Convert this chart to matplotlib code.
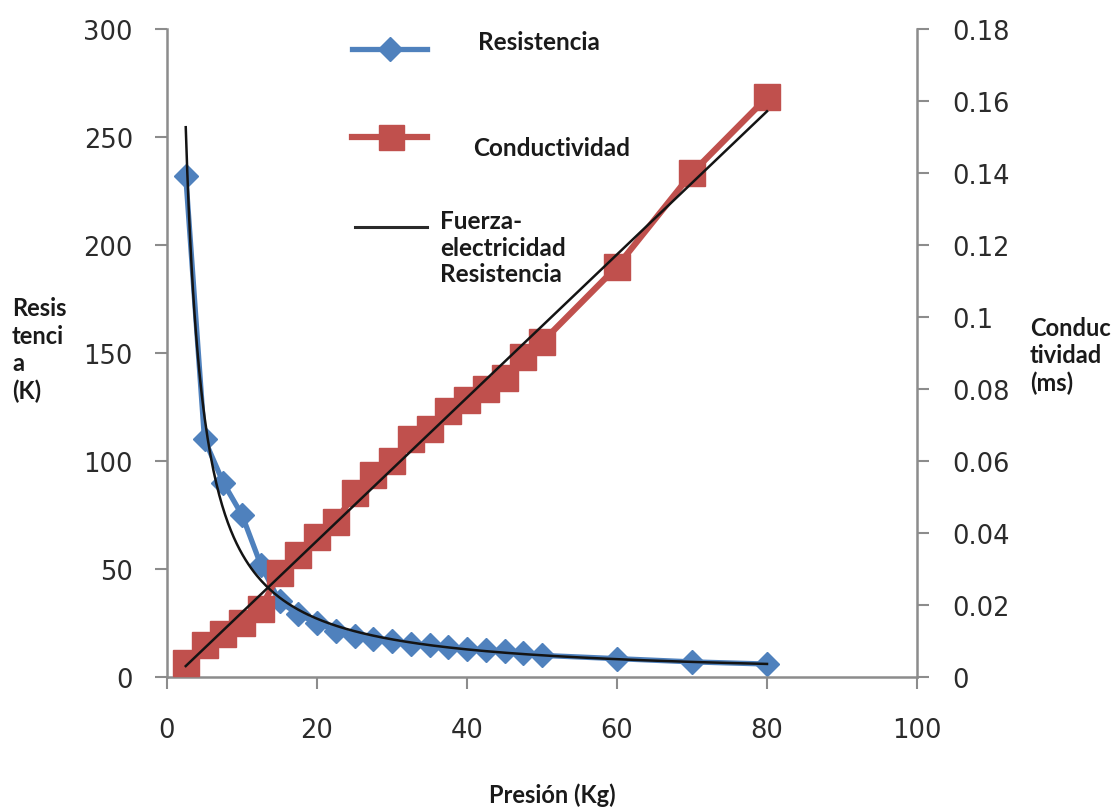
import numpy as np
import matplotlib
matplotlib.use("Agg")
import matplotlib.pyplot as plt
from matplotlib.lines import Line2D

plt.rcParams["font.family"] = ["DejaVu Sans"]

# ---- data ----
presion = [2.5, 5, 7.5, 10, 12.5, 15, 17.5, 20, 22.5, 25, 27.5, 30, 32.5,
           35, 37.5, 40, 42.5, 45, 47.5, 50, 60, 70, 80]
resistencia = [232, 110, 90, 75, 52, 35, 29, 25, 21.5, 19, 17.5, 16.5, 15.5,
               14.8, 14, 13, 12.5, 12, 11, 10, 8.5, 7, 6]
conductividad = [0.004, 0.009, 0.012, 0.015, 0.019, 0.029, 0.034, 0.039, 0.043,
                 0.051, 0.056, 0.060, 0.066, 0.069, 0.074, 0.077, 0.080, 0.083,
                 0.089, 0.093, 0.114, 0.140, 0.161]
x_ticks = [0, 20, 40, 60, 80, 100]
y1_ticks = [0, 50, 100, 150, 200, 250, 300]
y2_ticks = [0, 0.02, 0.04, 0.06, 0.08, 0.1, 0.12, 0.14, 0.16, 0.18]
y2_labels = ["0", "0.02", "0.04", "0.06", "0.08", "0.1", "0.12", "0.14", "0.16", "0.18"]

BLUE = "#4F81BD"
RED = "#C0504D"
AXC = "#8C8C8C"
TXT = "#2b2b2b"
BOLD = ["Lato", "DejaVu Sans"]

W, H = 1118, 812
fig = plt.figure(figsize=(W / 100, H / 100), dpi=100)
fig.patch.set_facecolor("white")

L, R_, B, T = 167, 917, 678, 30
ax = fig.add_axes([L / W, 1 - B / H, (R_ - L) / W, (B - T) / H])
ax2 = ax.twinx()

x = np.array(presion, float)
r = np.array(resistencia, float)
c = np.array(conductividad, float)

# trend lines (power fit for resistance, linear fit for conductivity)
b, lna = np.polyfit(np.log(x), np.log(r), 1)
xs = np.linspace(x.min(), x.max(), 400)
r_fit = np.exp(lna) * xs ** b
m, q = np.polyfit(x, c, 1)
c_fit = m * xs + q

ax.plot(x, r, color=BLUE, lw=3.8, marker="D", ms=12.5, mec=BLUE, mfc=BLUE,
        solid_joinstyle="round", zorder=2)
ax2.plot(x, c, color=RED, lw=4.5, marker="s", ms=18.5, mec=RED, mfc=RED,
         solid_joinstyle="miter", zorder=2)
ax2.plot(xs, r_fit, color="#141414", lw=1.8, transform=ax.transData, zorder=4)
ax2.plot(xs, c_fit, color="#141414", lw=1.8, zorder=4)

ax.set_xlim(0, 100)
ax.set_ylim(0, 300)
ax2.set_ylim(0, 0.18)
ax2.set_xlim(0, 100)

ax.set_xticks(x_ticks)
ax.set_xticklabels([str(v) for v in x_ticks])
ax.set_yticks(y1_ticks)
ax.set_yticklabels([str(v) for v in y1_ticks])
ax2.set_yticks(y2_ticks)
ax2.set_yticklabels(y2_labels)

for a in (ax, ax2):
    for s in a.spines.values():
        s.set_color(AXC)
        s.set_linewidth(1.8)
    a.spines["top"].set_visible(False)
    a.set_facecolor("none")
ax.spines["right"].set_visible(False)
ax2.spines["left"].set_visible(False)
ax2.spines["bottom"].set_visible(False)

ax.tick_params(axis="x", direction="out", length=8.5, width=1.5, color=AXC,
               labelsize=18.5, labelcolor=TXT, pad=20)
ax.tick_params(axis="y", direction="out", length=8.5, width=1.5, color=AXC,
               labelsize=18.5, labelcolor=TXT, pad=16)
ax2.tick_params(axis="y", direction="out", length=8.5, width=1.5, color=AXC,
                labelsize=18.5, labelcolor=TXT, pad=17)

# axis titles
fig.text(552 / W, 1 - 795 / H, "Presión (Kg)", family=BOLD, weight="bold",
         fontsize=17, color="#1a1a1a", ha="center", va="center")
fig.text(12 / W, 1 - 350 / H, "Resis\ntenci\na\n(K)", family=BOLD, weight="bold",
         fontsize=17, color="#1a1a1a", ha="left", va="center", linespacing=1.22)
fig.text(1030 / W, 1 - 356 / H, "Conduc\ntividad\n(ms)", family=BOLD, weight="bold",
         fontsize=17, color="#1a1a1a", ha="left", va="center", linespacing=1.22)

# custom legend
def fx(px):
    return px / W

def fy(py):
    return 1 - py / H

fig.add_artist(Line2D([fx(352), fx(427)], [fy(50), fy(50)], color=BLUE, lw=3.8,
                      transform=fig.transFigure))
fig.add_artist(Line2D([fx(390)], [fy(50)], color=BLUE, marker="D", ms=12,
                      transform=fig.transFigure))
fig.add_artist(Line2D([fx(352), fx(427)], [fy(138), fy(138)], color=RED, lw=4.5,
                      transform=fig.transFigure))
fig.add_artist(Line2D([fx(391)], [fy(138)], color=RED, marker="s", ms=18,
                      transform=fig.transFigure))
fig.add_artist(Line2D([fx(355), fx(427)], [fy(228), fy(228)], color="#2a2a2a", lw=2.2,
                      transform=fig.transFigure))
fig.text(fx(478), fy(43), "Resistencia", family=BOLD, weight="bold", fontsize=17.5,
         color="#1a1a1a", ha="left", va="center")
fig.text(fx(473), fy(148), "Conductividad", family=BOLD, weight="bold", fontsize=17.5,
         color="#1a1a1a", ha="left", va="center")
fig.text(fx(440), fy(248), "Fuerza-\nelectricidad\nResistencia", family=BOLD,
         weight="bold", fontsize=17.5, color="#1a1a1a", ha="left", va="center",
         linespacing=1.18)

fig.savefig("out.png", dpi=100, facecolor="white")
